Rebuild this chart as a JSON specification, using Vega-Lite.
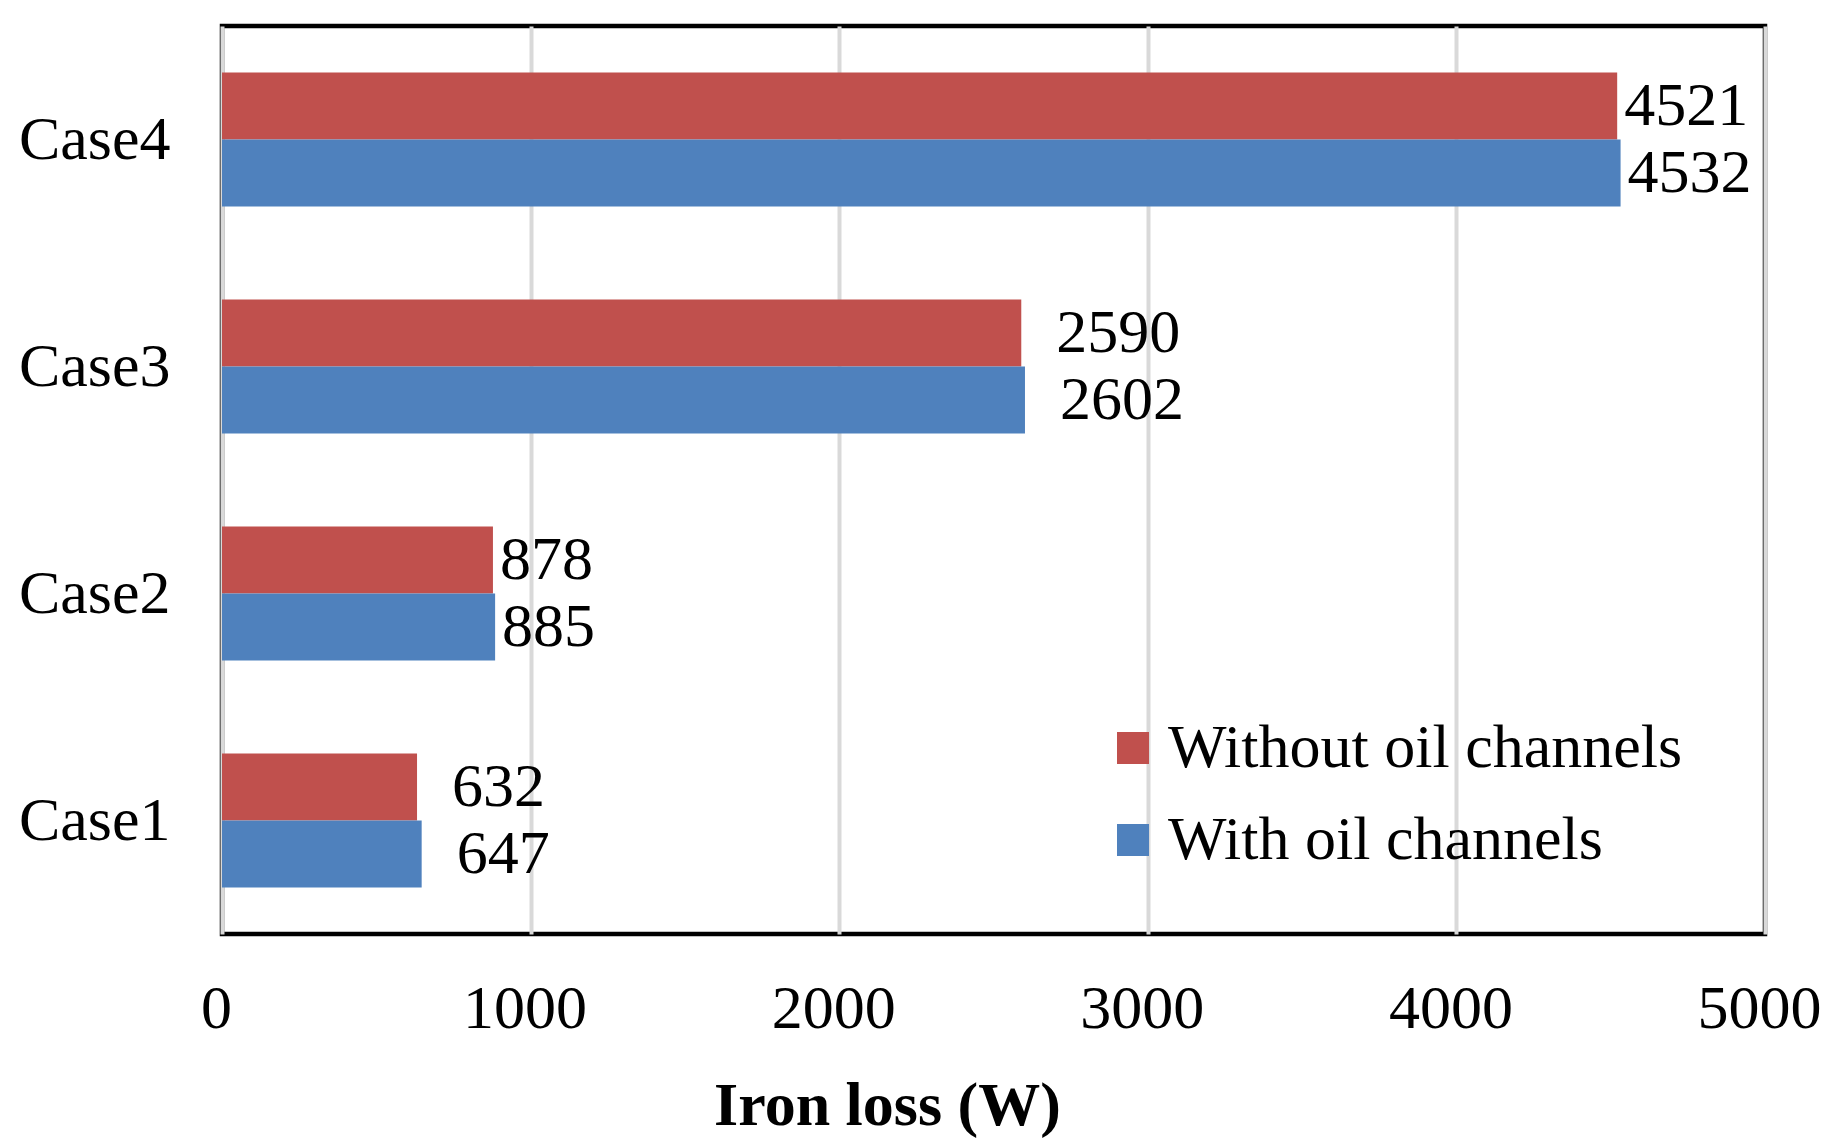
{
  "$schema": "https://vega.github.io/schema/vega-lite/v6.json",
  "width": 1543,
  "height": 908,
  "autosize": {"type": "none"},
  "padding": {"left": 222, "top": 26, "right": 68, "bottom": 210},
  "background": "white",
  "view": {"stroke": "black", "strokeWidth": 4.5},
  "config": {
    "font": "Liberation Serif",
    "axis": {"labelFont": "Liberation Serif", "titleFont": "Liberation Serif", "labelColor": "black", "titleColor": "black"},
    "legend": {"labelFont": "Liberation Serif"}
  },
  "data": {
    "values": [
      {"case": "Case4", "series": "Without oil channels", "loss": 4521},
      {"case": "Case4", "series": "With oil channels", "loss": 4532},
      {"case": "Case3", "series": "Without oil channels", "loss": 2590},
      {"case": "Case3", "series": "With oil channels", "loss": 2602},
      {"case": "Case2", "series": "Without oil channels", "loss": 878},
      {"case": "Case2", "series": "With oil channels", "loss": 885},
      {"case": "Case1", "series": "Without oil channels", "loss": 632},
      {"case": "Case1", "series": "With oil channels", "loss": 647}
    ]
  },
  "encoding": {
    "y": {
      "field": "case", "type": "nominal",
      "sort": ["Case4", "Case3", "Case2", "Case1"],
      "scale": {"paddingInner": 0.41, "paddingOuter": 0.205},
      "axis": {"title": null, "domain": false, "ticks": false, "labelFontSize": 62, "labelPadding": 52, "labelAlign": "right"}
    },
    "yOffset": {
      "field": "series", "type": "nominal",
      "sort": ["Without oil channels", "With oil channels"],
      "scale": {"paddingInner": 0, "paddingOuter": 0}
    },
    "x": {
      "field": "loss", "type": "quantitative",
      "scale": {"domain": [0, 5000], "nice": false},
      "axis": {
        "title": "Iron loss (W)", "titleFontSize": 62, "titleFontWeight": "bold",
        "titleX": 665, "titleAlign": "center",
        "titleY": 190, "titleBaseline": "alphabetic",
        "values": [0, 1000, 2000, 3000, 4000, 5000],
        "format": "d",
        "labelFontSize": 62, "labelPadding": 44, "labelOffset": -6,
        "domain": false, "ticks": false,
        "grid": true, "gridColor": "#d9d9d9", "gridWidth": 4,
        "labelFlush": false
      }
    }
  },
  "layer": [
    {
      "mark": {"type": "bar"},
      "encoding": {
        "color": {
          "field": "series", "type": "nominal",
          "sort": ["Without oil channels", "With oil channels"],
          "scale": {"domain": ["Without oil channels", "With oil channels"], "range": ["#C0504D", "#4F81BD"]},
          "legend": {
            "title": null, "orient": "none", "legendX": 880, "legendY": 691,
            "symbolType": "square", "symbolSize": 1024, "symbolStrokeWidth": 0,
            "labelFontSize": 62, "labelOffset": 4, "rowPadding": 30, "labelColor": "black", "labelLimit": 0
          }
        }
      }
    },
    {
      "transform": [{"filter": {"field": "case", "oneOf": ["Case4", "Case2"]}}],
      "mark": {"type": "text", "align": "left", "baseline": "middle", "dx": 7, "fontSize": 62, "font": "Liberation Serif", "color": "black"},
      "encoding": {
        "text": {"field": "loss", "type": "quantitative", "format": "d"}
      }
    },
    {
      "transform": [{"filter": {"field": "case", "oneOf": ["Case3", "Case1"]}}],
      "mark": {"type": "text", "align": "left", "baseline": "middle", "dx": 35, "fontSize": 62, "font": "Liberation Serif", "color": "black"},
      "encoding": {
        "text": {"field": "loss", "type": "quantitative", "format": "d"}
      }
    }
  ]
}
